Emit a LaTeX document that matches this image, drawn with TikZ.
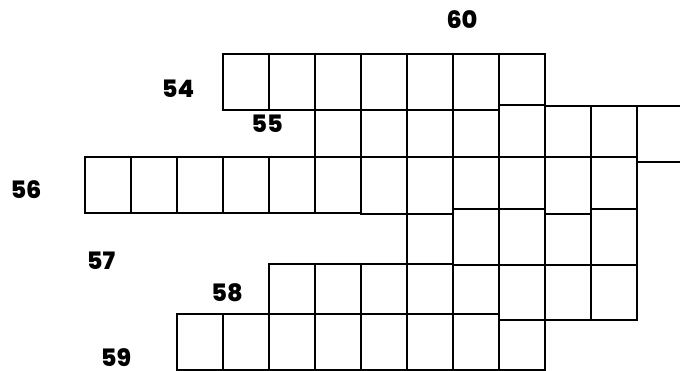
\documentclass[tikz,border=0pt]{standalone}
\usepackage{fontspec}
\newfontfamily\labfont{Poppins}[BoldFont={* ExtraBold}]
\tikzset{
  cellline/.style={draw=black, line width=1.5pt},
  clue/.style={font=\labfont\bfseries\fontsize{24}{24}\selectfont, inner sep=0pt, anchor=center}
}
\begin{document}
\begin{tikzpicture}[x=1pt,y=-1pt]
\useasboundingbox (0,0) rectangle (680,370);
\clip (0,0) rectangle (680,370);
% cells: x / top / bottom
\foreach \x/\a/\b in {
  85/157/213, 131/157/213, 177/157/213, 177/314/370,
  223/54/110, 223/157/213, 223/314/370,
  269/54/110, 269/157/213, 269/264/314, 269/314/370,
  315/54/110, 315/110/157, 315/157/213, 315/264/314, 315/314/370,
  361/54/110, 361/110/157, 361/157/214, 361/264/314, 361/314/370,
  407/54/110, 407/110/157, 407/157/214, 407/214/264, 407/264/314, 407/314/370,
  453/54/110, 453/110/157, 453/157/209, 453/209/265, 453/265/314, 453/314/370,
  499/54/105, 499/105/157, 499/157/209, 499/209/265, 499/265/320, 499/320/370,
  545/106/157, 545/157/214, 545/214/265, 545/265/320,
  591/106/157, 591/157/209, 591/209/265, 591/265/320}
  {\draw[cellline] (\x,\a) rectangle (\x+46,\b);}
\draw[cellline] (637,106) rectangle (700,162);
% clue numbers
\node[clue] (n60) at (462,20) {60};
\node[clue] (n54) at (178,89) {54};
\node[clue] (n55) at (267,124) {55};
\node[clue] (n56) at (26,190) {56};
\node[clue] (n57) at (101,261) {57};
\node[clue] (n58) at (227,293) {58};
\node[clue] (n59) at (116,358) {59};
\end{tikzpicture}
\end{document}
